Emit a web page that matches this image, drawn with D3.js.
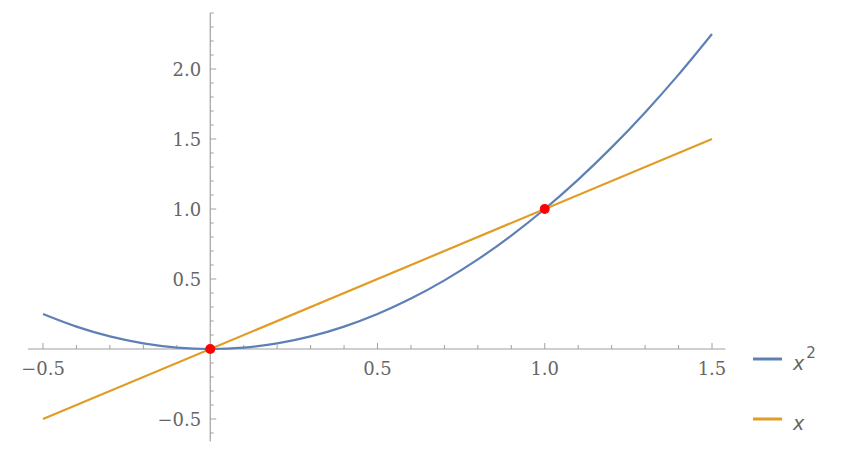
<!DOCTYPE html>
<html><head><meta charset="utf-8">
<script src="https://cdn.jsdelivr.net/npm/d3@7"></script>
<style>body{margin:0;background:#fff}</style>
</head><body>
<svg id="c" width="850" height="470"></svg>
<script>
// Data
const parabolaX = [-0.5,-0.4,-0.3,-0.2,-0.1,0,0.1,0.2,0.3,0.4,0.5,0.6,0.7,0.8,0.9,1.0,1.1,1.2,1.3,1.4,1.5];
const parabolaY = [0.25,0.16,0.09,0.04,0.01,0,0.01,0.04,0.09,0.16,0.25,0.36,0.49,0.64,0.81,1.0,1.21,1.44,1.69,1.96,2.25];
const lineX = [-0.5, 1.5];
const lineY = [-0.5, 1.5];
const pointsX = [0, 1];
const pointsY = [0, 1];
const xTickLabels = ["\u22120.5","0.5","1.0","1.5"];
const xTickValues = [-0.5,0.5,1.0,1.5];
const yTickLabels = ["\u22120.5","0.5","1.0","1.5","2.0"];
const yTickValues = [-0.5,0.5,1.0,1.5,2.0];
const seriesNames = ["x2","x"];
const colors = ["#5E81B5","#E19C24"];

const svg = d3.select("#c");
const x = d3.scaleLinear().domain([-0.5,1.5]).range([43,712]);
const y = d3.scaleLinear().domain([0,2]).range([349,69]);
const axisCol = "#a0a0a0";
const labelCol = "#666";
const font = "DejaVu Serif";

// X axis
const gx = svg.append("g");
gx.append("line").attr("x1",x(-0.545)).attr("x2",x(1.54)).attr("y1",y(0)).attr("y2",y(0))
  .attr("stroke",axisCol).attr("stroke-width",1.2);
const xMinor = d3.range(-5,16).map(d=>d/10).filter(d=>Math.abs(d)>1e-9);
gx.selectAll("line.t").data(xMinor).join("line")
  .attr("x1",d=>x(d)).attr("x2",d=>x(d))
  .attr("y1",y(0)).attr("y2",d=>{const m=Math.abs(Math.round(d*10))%5===0;return y(0)-(m?6:4);})
  .attr("stroke",axisCol).attr("stroke-width",1);
gx.selectAll("text").data(xTickValues).join("text")
  .attr("x",d=>x(d)).attr("y",375).attr("text-anchor","middle")
  .attr("font-family",font).attr("font-size",18).attr("fill",labelCol)
  .text((d,i)=>xTickLabels[i]);

// Y axis
const gy = svg.append("g");
gy.append("line").attr("x1",x(0)).attr("x2",x(0)).attr("y1",y(2.4)).attr("y2",y(-0.66))
  .attr("stroke",axisCol).attr("stroke-width",1.2);
const yMinor = d3.range(-6,25).map(d=>d/10).filter(d=>Math.abs(d)>1e-9);
gy.selectAll("line.t").data(yMinor).join("line")
  .attr("y1",d=>y(d)).attr("y2",d=>y(d))
  .attr("x1",x(0)).attr("x2",d=>{const m=Math.abs(Math.round(d*10))%5===0;return x(0)+(m?6:3.5);})
  .attr("stroke",axisCol).attr("stroke-width",1);
gy.selectAll("text").data(yTickValues).join("text")
  .attr("x",x(0)-9).attr("y",d=>y(d)+6.5).attr("text-anchor","end")
  .attr("font-family",font).attr("font-size",18).attr("fill",labelCol)
  .text((d,i)=>yTickLabels[i]);

// Curves
const lineGen = d3.line().x(d=>x(d[0])).y(d=>y(d[1])).curve(d3.curveCatmullRom);
svg.append("path").datum(parabolaX.map((v,i)=>[v,parabolaY[i]]))
  .attr("d",lineGen).attr("fill","none").attr("stroke",colors[0]).attr("stroke-width",2.2);
svg.append("path").datum(lineX.map((v,i)=>[v,lineY[i]]))
  .attr("d",lineGen).attr("fill","none").attr("stroke",colors[1]).attr("stroke-width",2.2);

// Points
svg.selectAll("circle").data(pointsX.map((v,i)=>[v,pointsY[i]])).join("circle")
  .attr("cx",d=>x(d[0])).attr("cy",d=>y(d[1])).attr("r",5).attr("fill","#ff0000");

// Legend
const lg = svg.append("g");
const legY = [359, 419];
lg.selectAll("line").data(colors).join("line")
  .attr("x1",753).attr("x2",782).attr("y1",(d,i)=>legY[i]).attr("y2",(d,i)=>legY[i])
  .attr("stroke",d=>d).attr("stroke-width",3);
const t1 = lg.append("text").attr("x",793).attr("y",legY[0]+11)
  .attr("font-family","DejaVu Sans").attr("font-size",19).attr("fill",labelCol);
t1.append("tspan").attr("font-style","italic").text("x");
t1.append("tspan").attr("dy",-12).attr("dx",2).attr("font-size",15).text("2");
lg.append("text").attr("x",793).attr("y",legY[1]+11)
  .attr("font-family","DejaVu Sans").attr("font-size",19).attr("font-style","italic").attr("fill",labelCol)
  .text(seriesNames[1]);
</script>
</body></html>
